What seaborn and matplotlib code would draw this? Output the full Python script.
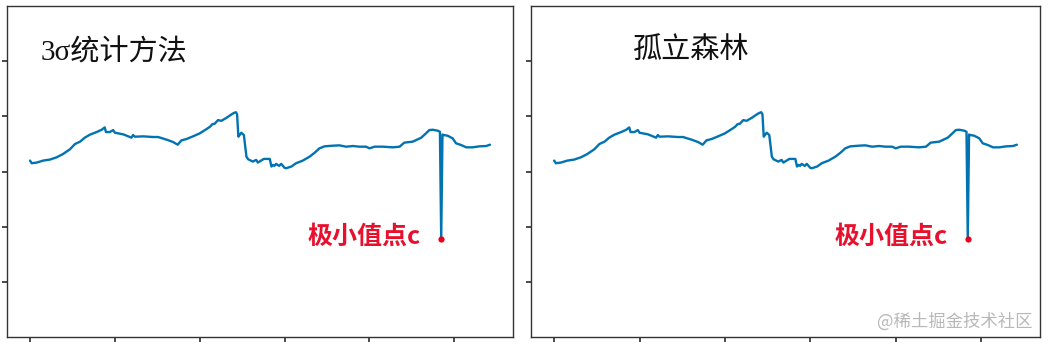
import matplotlib
matplotlib.use("Agg")
import matplotlib.pyplot as plt
import seaborn as sns
import pandas as pd

# ---- data ----
x_vals = [0, 4, 16, 31, 47, 63, 78, 94, 106, 118, 129, 141, 157, 169, 176, 179, 188, 196, 200,
          220, 239, 243, 247, 267, 290, 302, 322, 337, 348, 357, 369, 384, 400, 416, 424, 430,
          435, 443, 451, 463, 471, 478, 485, 488, 491, 494, 498, 504, 510, 514, 525, 533, 537,
          551, 565, 569, 573, 576, 580, 587, 592, 600, 604, 616, 627, 643, 659, 671, 682, 694,
          714, 729, 745, 761, 776, 792, 800, 812, 831, 855, 871, 882, 902, 922, 933, 941, 949,
          961, 966, 969, 972, 975, 984, 996, 1004, 1016, 1028, 1043, 1059, 1075, 1084]
y_vals = [31.98, 31.50, 31.62, 31.98, 32.16, 32.58, 33.18, 34.02, 34.98, 35.41, 36.13, 36.67,
          37.15, 37.57, 37.99, 37.15, 37.15, 37.51, 37.03, 36.73, 36.13, 36.61, 36.31, 36.37,
          36.25, 36.25, 35.77, 35.35, 34.86, 35.65, 35.89, 36.37, 36.91, 37.69, 38.11, 38.59,
          38.65, 39.31, 39.19, 39.73, 40.15, 40.51, 40.75, 40.39, 36.31, 36.61, 37.03, 36.61,
          32.70, 32.22, 31.80, 32.10, 31.62, 32.28, 32.28, 30.90, 31.20, 31.02, 31.38, 31.02,
          31.38, 30.66, 30.60, 30.90, 31.50, 31.98, 32.70, 33.42, 34.20, 34.56, 34.68, 34.74,
          34.50, 34.62, 34.50, 34.50, 34.20, 34.50, 34.50, 34.38, 34.50, 35.23, 35.41, 36.13,
          36.91, 37.51, 37.57, 37.39, 37.20, 17.69, 36.70, 36.61, 36.49, 36.01, 35.11, 34.80,
          34.38, 34.38, 34.56, 34.62, 34.86]
min_x = 969
min_y = 17.69
titles = ["3σ统计方法", "孤立森林"]
min_label = "极小值点c"
x_ticks = [0, 200, 400, 600, 800, 1000]
y_ticks = [10, 20, 30, 40, 50]
watermark = "@稀土掘金技术社区"

df = pd.DataFrame({"x": x_vals, "y": y_vals})

sns.set_theme(style="white", rc={
    "axes.edgecolor": "#333333",
    "axes.linewidth": 1.0,
    "xtick.bottom": True,
    "ytick.left": True,
    "xtick.direction": "out",
    "ytick.direction": "out",
    "xtick.major.size": 3.5,
    "ytick.major.size": 3.5,
    "xtick.color": "#333333",
    "ytick.color": "#333333",
})
plt.rcParams["font.family"] = ["Noto Sans CJK SC", "DejaVu Sans"]

W, H = 1048, 346
fig = plt.figure(figsize=(W / 100, H / 100), dpi=100)

# axes rectangles in pixels: (left, right, top, bottom)
rects = [(7, 513, 6, 337), (531, 1040, 6, 337)]
title_pos = [(0.067, 0.858), (0.200, 0.867)]

for i, (l, r, t, b) in enumerate(rects):
    ax = fig.add_axes([l / W, 1 - b / H, (r - l) / W, (b - t) / H])
    sns.lineplot(data=df, x="x", y="y", ax=ax, color="#0173b2", linewidth=1.7)
    ax.scatter([min_x], [min_y], s=20, color="#e8001c", zorder=5, linewidths=0)
    ax.set_ylim(0, 60)
    ax.set_xticks(x_ticks)
    ax.set_yticks(y_ticks)
    ax.set_xticklabels([])
    ax.set_yticklabels([])
    ax.set_xlabel("")
    ax.set_ylabel("")
    for s in ax.spines.values():
        s.set_visible(True)
    ax.text(title_pos[i][0], title_pos[i][1], titles[i], transform=ax.transAxes,
            fontsize=21, ha="left", va="center", color="#111111",
            family=["Liberation Serif", "Noto Sans CJK SC"])
    ax.annotate(min_label, xy=(min_x, min_y), xytext=(-20, 3), textcoords="offset pixels",
                ha="right", va="center", fontsize=18, fontweight="bold", color="#e8112d",
                family=["Noto Sans CJK SC", "DejaVu Sans"])

fig.text(1033 / W, 1 - 322 / H, watermark, ha="right", va="center", fontsize=12.5,
         color="#b8b8b8", family=["Noto Sans CJK SC", "DejaVu Sans"])

fig.savefig("out.png", dpi=100)
